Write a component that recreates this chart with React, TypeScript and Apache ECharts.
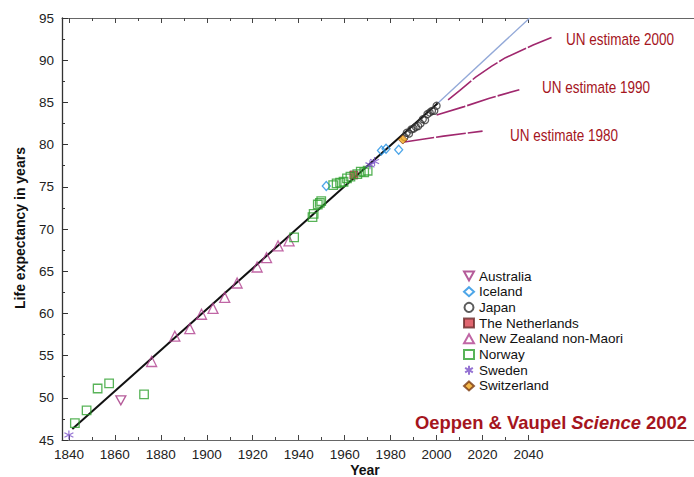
import React, { useEffect, useRef } from "react";
import * as echarts from "echarts";

// ---- axis ticks ----
const majorTicks = [1840, 1860, 1880, 1900, 1920, 1940, 1960, 1980, 2000, 2020, 2040];
const minorTicks = [1850, 1870, 1890, 1910, 1930, 1950, 1970, 1990, 2010, 2030];

// ---- record female life expectancy by country [year, years] ----
const australia = [[1862.6, 49.7]];
const iceland = [[1952, 75.1], [1976, 79.3], [1978, 79.5], [1983.5, 79.4]];
const japan = [
  [1986, 80.9], [1987, 81.4], [1988, 81.3], [1989, 81.8], [1990, 81.9],
  [1991, 82.1], [1992, 82.2], [1993, 82.5], [1994, 83.0], [1995, 82.9],
  [1996, 83.6], [1997, 83.8], [1998, 84.0], [1999, 84.0], [2000, 84.6],
];
const netherlands = [[1964, 76.4]];
const newZealand = [
  [1876, 54.3], [1886.1, 57.3], [1892.6, 58.2], [1897.7, 59.9], [1902.7, 60.6],
  [1907.8, 61.9], [1913.2, 63.6], [1921.9, 65.5], [1926, 66.6], [1931, 68.0],
  [1935.8, 68.6],
];
const norway = [
  [1842.6, 47.0], [1847.7, 48.5], [1852.5, 51.1], [1857.5, 51.7], [1872.7, 50.4],
  [1938, 69.0], [1946, 71.4], [1946.5, 71.8], [1948.3, 72.9], [1949.2, 73.1],
  [1949.8, 73.3], [1955, 75.2], [1956.5, 75.4], [1958, 75.5], [1959.5, 75.6],
  [1961, 76.0], [1962.5, 76.2], [1965.5, 76.5], [1967, 76.8], [1968.5, 76.7],
  [1970, 76.9],
];
const sweden = [[1840, 45.6], [1971, 77.6], [1973, 78.0]];
const switzerland = [[1985.3, 80.6]];

// ---- lines ----
const trendLine = [[1841.5, 46.3], [2000.5, 84.9]];
const bestPracticeExt = [[2000.5, 84.9], [2040.5, 95]];
const un2000 = [[2005, 85.3], [2010, 86.4], [2017, 88.0], [2024, 89.3], [2030, 90.3], [2042, 91.8], [2050, 92.7]];
const un1990 = [[2000, 83.5], [2012, 84.5], [2023, 85.5], [2036, 86.5]];
const un1980 = [[1986, 80.3], [2003, 81.0], [2020, 81.6]];

const unLabels = ["UN estimate 2000", "UN estimate 1990", "UN estimate 1980"];
const countries = [
  "Australia", "Iceland", "Japan", "The Netherlands",
  "New Zealand non-Maori", "Norway", "Sweden", "Switzerland",
];

const FONT = "'Liberation Sans', Arial, Helvetica, sans-serif";
const DARKRED = "#a5151d";
const UNCOLOR = "#a0286e";
const INV_TRIANGLE = "path://M0,0L10,0L5,9Z";
const ASTERISK = "path://M5,0L5,10M0.7,2.5L9.3,7.5M0.7,7.5L9.3,2.5";

export default function App() {
  const ref = useRef<HTMLDivElement>(null);

  useEffect(() => {
    document.body.style.margin = "0";
    const chart = echarts.init(ref.current!, null, { renderer: "svg" });

    const empty = (c: string, w = 1.3) => ({ color: "transparent", borderColor: c, borderWidth: w });
    const scatter = (name: string, data: number[][], symbol: string, size: any, itemStyle: any, extra: any = {}) => ({
      name, type: "scatter", data, symbol, symbolSize: size, itemStyle, z: 3, ...extra,
    });
    const line = (data: number[][], color: string, width: number, type: any = "solid") => ({
      type: "line", data, showSymbol: false, symbol: "none", silent: true, smooth: false,
      lineStyle: { color, width, type }, z: 2,
    });

    const xCommon = {
      type: "value", min: 1837, max: 2112, splitLine: { show: false },
    };

    const unText = (i: number, x: number, y: number) => ({
      type: "text", x, y, scaleX: 0.82,
      style: {
        text: unLabels[i], fontSize: 16.5, fontFamily: FONT, fill: DARKRED,
        align: "center", verticalAlign: "middle",
      },
    });

    chart.setOption({
      animation: false,
      backgroundColor: "#fff",
      grid: { left: 62, right: 0, top: 18, bottom: 37 },
      xAxis: [
        {
          ...xCommon, position: "bottom",
          axisLine: { show: true, lineStyle: { color: "#666", width: 1.2 } },
          axisTick: { show: true, inside: true, length: 5, customValues: majorTicks, lineStyle: { color: "#444" } },
          axisLabel: {
            show: true, customValues: majorTicks, fontSize: 13.5, color: "#222", fontFamily: FONT, margin: 7,
            formatter: (v: number) => String(Math.round(v)),
          },
        },
        {
          ...xCommon, position: "bottom",
          axisLine: { show: false },
          axisTick: { show: true, inside: true, length: 3, customValues: minorTicks, lineStyle: { color: "#444" } },
          axisLabel: { show: false },
        },
        {
          ...xCommon, position: "top",
          axisLine: { show: true, lineStyle: { color: "#666", width: 1.2 } },
          axisTick: { show: true, inside: true, length: 5, customValues: majorTicks, lineStyle: { color: "#444" } },
          axisLabel: { show: false },
        },
        {
          ...xCommon, position: "top",
          axisLine: { show: false },
          axisTick: { show: true, inside: true, length: 3, customValues: minorTicks, lineStyle: { color: "#444" } },
          axisLabel: { show: false },
        },
      ],
      yAxis: {
        type: "value", min: 45, max: 95, interval: 5,
        axisLine: { show: true, lineStyle: { color: "#333", width: 1.3 } },
        axisTick: { show: true, inside: true, length: 6, lineStyle: { color: "#333" } },
        minorTick: { show: true, splitNumber: 2, length: 3, lineStyle: { color: "#333" } },
        axisLabel: { fontSize: 13.5, color: "#222", fontFamily: FONT, margin: 8 },
        splitLine: { show: false },
      },
      legend: {
        data: countries,
        orient: "vertical",
        left: 458, top: 264,
        itemWidth: 10, itemHeight: 9, itemGap: 1.7,
        textStyle: { fontSize: 13.5, color: "#111", fontFamily: FONT, lineHeight: 14 },
        selectedMode: false,
      },
      series: [
        line(trendLine, "#111", 2),
        line(bestPracticeExt, "#93a9d8", 1.3),
        line(un2000, UNCOLOR, 1.6, [30, 2]),
        line(un1990, UNCOLOR, 1.6, [30, 2]),
        line(un1980, UNCOLOR, 1.6, [30, 2]),
        scatter("Australia", australia, INV_TRIANGLE, [10, 9], empty("#a3327f")),
        scatter("Iceland", iceland, "diamond", [8, 9], empty("#2290e2")),
        scatter("Japan", japan, "circle", 7, empty("#333")),
        scatter("The Netherlands", netherlands, "rect", 8, { color: "#d8404c", borderColor: "#6a2a2a", borderWidth: 0.8 }),
        scatter("New Zealand non-Maori", newZealand, "triangle", 10, empty("#b0408f")),
        scatter("Norway", norway, "rect", 8.5, empty("#2ea02e")),
        scatter("Sweden", sweden, ASTERISK, 9, empty("#7a50c8", 1.2)),
        scatter("Switzerland", switzerland, "diamond", [9, 9], { color: "#f2a81e", borderColor: "#7a3a10", borderWidth: 0.9 }),
      ],
      graphic: [
        {
          type: "text", x: 20, y: 228, rotation: Math.PI / 2,
          style: {
            text: "Life expectancy in years", fontSize: 14, fontWeight: "bold", fontFamily: FONT,
            fill: "#111", align: "center", verticalAlign: "middle",
          },
        },
        {
          type: "text", x: 365, y: 470,
          style: {
            text: "Year", fontSize: 14, fontWeight: "bold", fontFamily: FONT,
            fill: "#111", align: "center", verticalAlign: "middle",
          },
        },
        unText(0, 620, 39),
        unText(1, 596, 87),
        unText(2, 564, 135),
        {
          type: "text", x: 415, y: 422,
          style: {
            text: "{a|Oeppen & Vaupel }{b|Science}{a| 2002}",
            align: "left", verticalAlign: "middle",
            rich: {
              a: { fontSize: 18.4, fontWeight: "bold", fontFamily: FONT, fill: DARKRED, color: DARKRED },
              b: { fontSize: 18.4, fontWeight: "bold", fontStyle: "italic", fontFamily: FONT, fill: DARKRED, color: DARKRED },
            },
          },
        },
      ],
    });

    return () => chart.dispose();
  }, []);

  return <div ref={ref} style={{ width: 694, height: 477 }} />;
}
